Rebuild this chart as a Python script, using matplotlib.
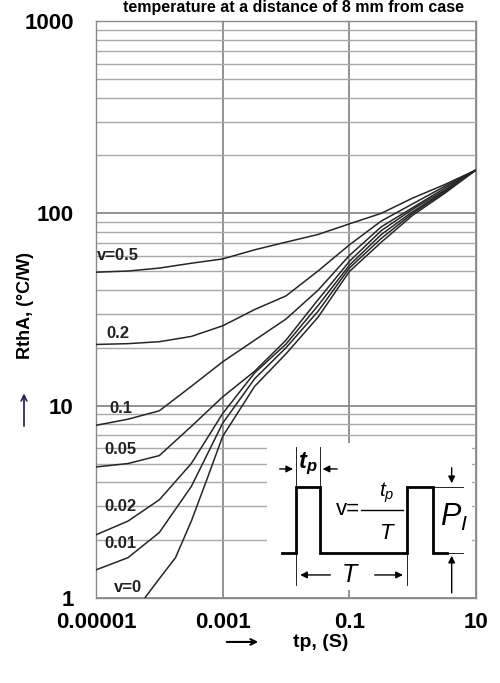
import matplotlib
matplotlib.use("Agg")
import matplotlib.pyplot as plt
from matplotlib.patches import Rectangle
from matplotlib.ticker import FixedLocator, NullLocator, NullFormatter, LogLocator

plt.rcParams["font.family"] = ["Liberation Sans", "DejaVu Sans"]
plt.rcParams["mathtext.fontset"] = "custom"
plt.rcParams["mathtext.rm"] = "Liberation Sans"
plt.rcParams["mathtext.it"] = "Liberation Sans:italic"
plt.rcParams["mathtext.bf"] = "Liberation Sans:bold:italic"

# pulse duration tp (s)
tp = [1e-5, 3.2e-5, 1e-4, 3.2e-4, 1e-3, 3.2e-3, 1e-2, 3.2e-2, 0.1, 0.32, 1, 3.2, 10]
tp0 = [5.9e-5, 1e-4, 1.8e-4, 3.2e-4, 5.6e-4, 1e-3, 3.2e-3, 1e-2, 3.2e-2, 0.1, 0.32, 1, 3.2, 10]

# thermal resistance RthA (degC/W) per duty cycle v
r05 = [49.4, 50.1, 51.9, 55.0, 57.9, 64.6, 70.8, 77.6, 88.1, 100, 120, 141, 168]
r02 = [20.8, 21.0, 21.5, 22.9, 26.0, 31.6, 37.2, 50.1, 68.5, 91.2, 112, 138, 168]
r01 = [7.9, 8.5, 9.4, 12.6, 16.9, 21.9, 28.2, 39.8, 60.3, 85.1, 107, 135, 168]
r005 = [4.8, 5.0, 5.5, 7.8, 11.1, 15.1, 21.9, 35.5, 56.2, 81.3, 105, 132, 168]
r002 = [2.13, 2.51, 3.24, 5.0, 9.1, 14.8, 20.9, 33.1, 53.7, 77.6, 102, 130, 168]
r001 = [1.40, 1.62, 2.19, 3.80, 8.1, 13.8, 20.0, 30.9, 51.9, 74.1, 100, 129, 168]
r0 = [1.0, 1.26, 1.62, 2.51, 4.11, 6.92, 12.6, 18.6, 28.8, 49.8, 70.8, 97.7, 127, 168]

curveLabels = ["v=0.5", "0.2", "0.1", "0.05", "0.02", "0.01", "v=0"]
xTicks = [1e-5, 1e-3, 1e-1, 1e1]
xTickLabels = ["0.00001", "0.001", "0.1", "10"]
yTicks = [1, 10, 100, 1000]
yTickLabels = ["1", "10", "100", "1000"]


fig = plt.figure(figsize=(5, 6.83), dpi=100)
ax = fig.add_axes([0.192, 0.1245, 0.76, 0.8448])
ax.set_xscale("log")
ax.set_yscale("log")
ax.set_xlim(1e-5, 10)
ax.set_ylim(1, 1000)

ax.xaxis.set_major_locator(FixedLocator(xTicks))
ax.xaxis.set_minor_locator(NullLocator())
ax.set_xticklabels(xTickLabels)
ax.yaxis.set_major_locator(FixedLocator(yTicks))
ax.yaxis.set_minor_locator(LogLocator(base=10, subs=range(2, 10)))
ax.yaxis.set_minor_formatter(NullFormatter())
ax.set_yticklabels(yTickLabels)
ax.tick_params(which="both", length=0)
ax.tick_params(axis="x", pad=10, labelsize=16)
ax.tick_params(axis="y", pad=16, labelsize=16)
for lab in ax.get_xticklabels() + ax.get_yticklabels():
    lab.set_fontweight("bold")

ax.grid(True, which="major", color="#8a8a8a", lw=1.3)
ax.grid(True, which="minor", axis="y", color="#a8a8a8", lw=1.0)
ax.set_axisbelow(True)
for s in ax.spines.values():
    s.set_color("#8a8a8a")
    s.set_linewidth(1.0)

series = [(tp, r05), (tp, r02), (tp, r01), (tp, r005), (tp, r002), (tp, r001), (tp0, r0)]
for x, y in series:
    ax.plot(x, y, color="#262626", lw=1.1, zorder=3)

labelPos = [(0.003, 0.593), (0.027, 0.458), (0.035, 0.329), (0.022, 0.258),
            (0.022, 0.158), (0.022, 0.094), (0.048, 0.019)]
for txt, (lx, ly) in zip(curveLabels, labelPos):
    ax.text(lx, ly, txt, transform=ax.transAxes, fontsize=12, fontweight="bold",
            ha="left", va="center", color="#222222", zorder=4)

# pulse sketch in the lower right corner
T = ax.transAxes
ax.add_patch(Rectangle((0.45, 0.014), 0.54, 0.255, transform=T,
                       facecolor="white", edgecolor="none", zorder=2))
ax.plot([0.489, 0.526, 0.526, 0.589, 0.589, 0.819, 0.819, 0.886, 0.886, 0.923],
        [0.0785, 0.0785, 0.192, 0.192, 0.0785, 0.0785, 0.192, 0.192, 0.0785, 0.0785],
        transform=T, color="black", lw=2.0, zorder=4, solid_joinstyle="miter")
thin = dict(transform=T, color="black", lw=0.6, zorder=4)
ax.plot([0.526, 0.526], [0.262, 0.0225], **thin)
ax.plot([0.589, 0.589], [0.262, 0.192], **thin)
ax.plot([0.819, 0.819], [0.192, 0.0225], **thin)
ax.plot([0.886, 0.966], [0.192, 0.192], **thin)
ax.plot([0.923, 0.966], [0.0785, 0.0785], **thin)

arr = dict(arrowstyle="-|>", color="black", lw=1.0, mutation_scale=10)
for (x0, y0), (x1, y1) in [((0.476, 0.2236), (0.526, 0.2236)),
                           ((0.642, 0.2236), (0.589, 0.2236)),
                           ((0.936, 0.2305), (0.936, 0.194)),
                           ((0.936, 0.004), (0.936, 0.078)),
                           ((0.624, 0.0399), (0.530, 0.0399)),
                           ((0.726, 0.0399), (0.815, 0.0399))]:
    ax.annotate("", xy=(x1, y1), xytext=(x0, y0), xycoords=T, textcoords=T,
                arrowprops=arr, zorder=4)

ax.text(0.558, 0.232, r"$\mathbf{t}_\mathbf{p}$", transform=T, fontsize=17,
        ha="center", va="center", zorder=5)
ax.text(0.695, 0.1525, "v=", transform=T, fontsize=16, ha="right", va="center", zorder=5)
ax.plot([0.697, 0.808], [0.1525, 0.1525], transform=T, color="black", lw=1.0, zorder=4)
ax.text(0.766, 0.182, r"$t_p$", transform=T, fontsize=15, ha="center", va="center", zorder=5)
ax.text(0.766, 0.111, "T", transform=T, fontsize=16, style="italic",
        ha="center", va="center", zorder=5)
ax.text(0.668, 0.0399, "T", transform=T, fontsize=18, style="italic",
        ha="center", va="center", zorder=5)
ax.text(0.943, 0.140, r"$P_I$", transform=T, fontsize=22, ha="center", va="center", zorder=5)

# texts around the axes
fig.text(0.587, 0.9825, "temperature at a distance of 8 mm from case",
         fontsize=11.5, fontweight="bold", ha="center", va="baseline")
fig.text(0.052, 0.553, "RthA, (\u00b0C/W)", rotation=90, fontsize=13,
         fontweight="bold", ha="center", va="center")
fig.text(0.642, 0.0586, "tp, (S)", fontsize=14, fontweight="bold",
         ha="center", va="center")
ax.annotate("", xy=(0.048, 0.428), xytext=(0.048, 0.372), xycoords="figure fraction",
            arrowprops=dict(arrowstyle="->", color="#1c1c50", lw=1.2))
ax.annotate("", xy=(0.522, 0.0601), xytext=(0.448, 0.0601), xycoords="figure fraction",
            arrowprops=dict(arrowstyle="->", color="black", lw=1.5))

fig.savefig("out.png", dpi=100)
